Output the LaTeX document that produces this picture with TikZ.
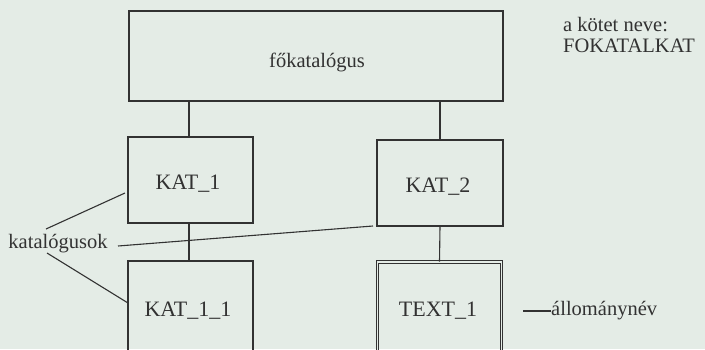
\documentclass[tikz,border=0pt]{standalone}
\usepackage{fontspec}
\setmainfont{Liberation Serif}
\definecolor{paper}{RGB}{228,236,230}
\definecolor{ink}{RGB}{50,50,50}
\tikzset{
  box/.style={draw=ink, line width=1.2pt, rectangle, inner sep=0pt},
  dbox/.style={draw=ink, line width=0.8pt, double=paper, double distance=1.5pt, rectangle, inner sep=0pt},
  lbl/.style={text=ink, font=\fontsize{20.5}{23}\selectfont, inner sep=0pt},
  boxlbl/.style={lbl, font=\fontsize{22}{24}\selectfont},
  link/.style={draw=ink, line width=1.1pt},
}
\begin{document}
\begin{tikzpicture}[x=1pt,y=-1pt]
  \fill[paper] (0,0) rectangle (705,349);
  \useasboundingbox (0,0) rectangle (705,349);
  \clip (0,0) rectangle (705,349);

  % volume root and catalogues
  \node[box, minimum width=374pt, minimum height=90pt] (root) at (316,56) {};
  \node[lbl] (rootlbl) at (317,62) {főkatalógus};

  \node[box, minimum width=125pt, minimum height=86pt] (k1) at (190.5,180) {};
  \node[boxlbl] (k1lbl) at (188,184) {KAT\_1};

  \node[box, minimum width=126pt, minimum height=86pt] (k2) at (440,183) {};
  \node[boxlbl] (k2lbl) at (438,187) {KAT\_2};

  \node[box, minimum width=125pt, minimum height=100pt] (k11) at (190.5,311) {};
  \node[boxlbl] (k11lbl) at (188,311) {KAT\_1\_1};

  \node[dbox, minimum width=124pt, minimum height=100pt] (t1) at (439.5,312) {};
  \node[boxlbl] (t1lbl) at (438,311) {TEXT\_1};

  % tree links
  \coordinate (r1) at (189,101);
  \coordinate (r2) at (440,101);
  \draw[link] (r1) -- (r1 |- k1.north);
  \draw[link] (r2) -- (r2 |- k2.north);
  \draw[link] (k1.south -| r1) -- (r1 |- k11.north);
  \draw[link] (k2.south) -- (t1.north);

  % annotations
  \node[lbl, anchor=west] (vol1) at (563,25) {a kötet neve:};
  \node[lbl, anchor=west] (vol2) at (563,46) {FOKATALKAT};

  \node[lbl] (cat) at (58,244) {katalógusok};
  \coordinate (ca) at (46,229);
  \coordinate (cb) at (47,253);
  \coordinate (cc) at (118,246);
  \draw[link] (ca) -- (125,193);
  \draw[link] (cb) -- (128,303);
  \draw[link] (cc) -- (373,226);

  \node[lbl, anchor=west] (fname) at (551,311) {állománynév};
  \coordinate (fd) at (523,311);
  \draw[link] (fd) -- (fname.west);
\end{tikzpicture}
\end{document}
